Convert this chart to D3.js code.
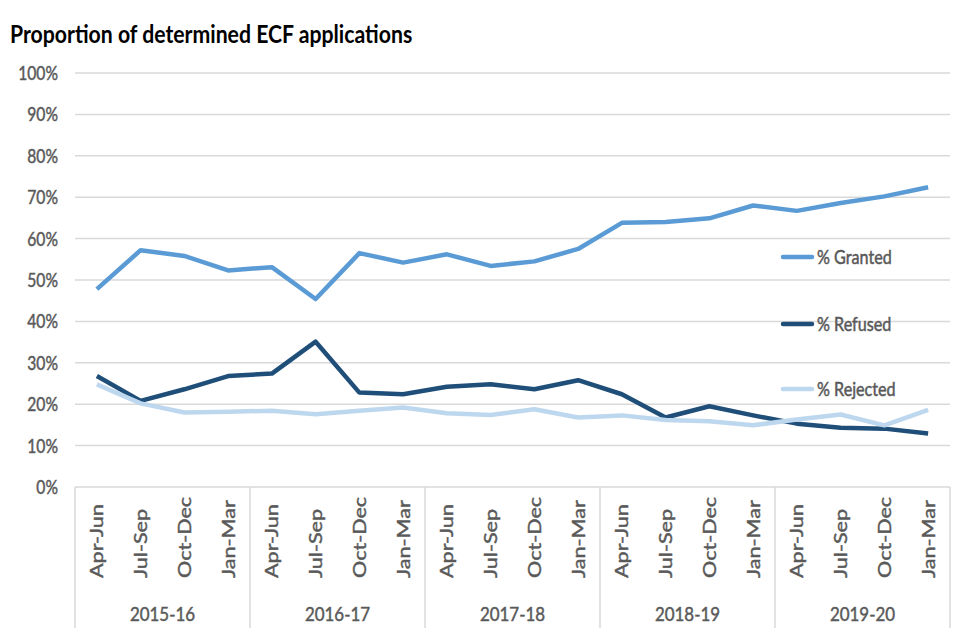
<!DOCTYPE html>
<html><head><meta charset="utf-8">
<script src="https://cdn.jsdelivr.net/npm/d3@7"></script>
<style>body{margin:0;background:#fff;} svg{display:block;}</style>
</head><body><div id="chart"></div>
<script>
const years = ["2015-16","2016-17","2017-18","2018-19","2019-20"];
const quarters = ["Apr-Jun","Jul-Sep","Oct-Dec","Jan-Mar"];
const granted  = [47.8,57.2,55.8,52.3,53.1,45.4,56.5,54.2,56.2,53.4,54.5,57.5,63.8,64.0,64.9,68.0,66.7,68.6,70.2,72.4];
const refused  = [26.8,20.8,23.6,26.8,27.4,35.1,22.8,22.4,24.2,24.8,23.6,25.8,22.4,16.8,19.5,17.3,15.3,14.3,14.1,12.9];
const rejected = [24.8,20.2,18.0,18.2,18.4,17.6,18.4,19.2,17.8,17.4,18.8,16.8,17.3,16.2,15.9,14.9,16.3,17.5,14.9,18.6];
const yTicks = [0,10,20,30,40,50,60,70,80,90,100];
const seriesNames = ["% Granted","% Refused","% Rejected"];
const seriesColors = ["#5B9BD5","#1F4E79","#BDD7EE"];

const W = 960, H = 640;
const m = {left:75, right:10, top:73, bottom:153};
const font = "Lato, 'Open Sans', sans-serif";
const grey = "#595959";
const svg = d3.select("#chart").append("svg").attr("width",W).attr("height",H);

const cats = [];
years.forEach(y => quarters.forEach(q => cats.push(y+"|"+q)));

const x = d3.scaleBand().domain(cats).range([m.left, W-m.right]).padding(0);
const y = d3.scaleLinear().domain([0,100]).range([H-m.bottom, m.top]);

function heavy(sel, c){ return sel.attr("stroke",c).attr("stroke-width",0.45).attr("paint-order","stroke"); }

// title
svg.append("text").attr("transform","translate(10,43) scale(0.965,1.1)").attr("font-family",font)
  .attr("font-weight","bold").attr("font-size",22).attr("fill","#000")
  .text("Proportion of determined ECF applications");

// gridlines
svg.append("g").selectAll("line").data(yTicks.filter(d=>d>0)).join("line")
  .attr("x1",m.left).attr("x2",W-m.right)
  .attr("y1",d=>y(d)).attr("y2",d=>y(d))
  .attr("stroke","#D9D9D9").attr("stroke-width",1.5);

// y axis labels
const yAxis = d3.axisLeft(y).tickValues(yTicks).tickFormat(d=>d+"%").tickSize(0).tickPadding(0);
const gy = svg.append("g").attr("transform",`translate(${m.left},0)`).call(yAxis);
gy.select(".domain").remove();
gy.selectAll("text").attr("x",0).attr("dy",null).attr("transform","translate(-17,6.5) scale(0.87,1.04)")
  .attr("font-family",font).attr("font-size",18).attr("fill",grey).call(heavy,grey);

// x axis: baseline + group separators
const x0 = y(0);
const gx = svg.append("g");
gx.append("line").attr("x1",m.left).attr("x2",W-m.right).attr("y1",x0).attr("y2",x0)
  .attr("stroke","#D9D9D9").attr("stroke-width",1.5);
const sepX = years.map(yr => x(yr+"|"+quarters[0])).concat([x(cats[cats.length-1])+x.bandwidth()]);
gx.selectAll("line.sep").data(sepX).join("line").attr("class","sep")
  .attr("x1",d=>d).attr("x2",d=>d).attr("y1",x0).attr("y2",628)
  .attr("stroke","#D9D9D9").attr("stroke-width",1.5);

gx.selectAll("text.q").data(cats).join("text").attr("class","q")
  .attr("transform",d=>`translate(${x(d)+x.bandwidth()/2+6.5},578) rotate(-90) scale(1.2,0.95)`)
  .attr("text-anchor","start").attr("font-family",font).attr("font-size",18)
  .attr("fill",grey).call(heavy,grey).text(d=>d.split("|")[1]);

gx.selectAll("text.yr").data(years).join("text").attr("class","yr")
  .attr("transform",d=>`translate(${x(d+"|"+quarters[0]) + x.bandwidth()*2},621) scale(0.94,1.04)`)
  .attr("text-anchor","middle").attr("font-family",font).attr("font-size",18)
  .attr("fill",grey).call(heavy,grey).text(d=>d);

// lines
const data = [granted, refused, rejected];
const line = d3.line().x((d,i)=>x(cats[i])+x.bandwidth()/2).y(d=>y(d));
svg.append("g").selectAll("path").data(data).join("path")
  .attr("d",d=>line(d)).attr("fill","none")
  .attr("stroke",(d,i)=>seriesColors[i]).attr("stroke-width",4.5)
  .attr("stroke-linejoin","round");

// legend
const legY = [257,324,389];
const lg = svg.append("g");
seriesNames.forEach((n,i)=>{
  lg.append("line").attr("x1",783).attr("x2",812).attr("y1",legY[i]).attr("y2",legY[i])
    .attr("stroke",seriesColors[i]).attr("stroke-width",4.5).attr("stroke-linecap","round");
  lg.append("text").attr("transform",`translate(817,${legY[i]+6.5}) scale(0.95,1.13)`).attr("font-family",font)
    .attr("font-size",17).attr("fill",grey).call(heavy,grey).text(n);
});
</script>
</body></html>
